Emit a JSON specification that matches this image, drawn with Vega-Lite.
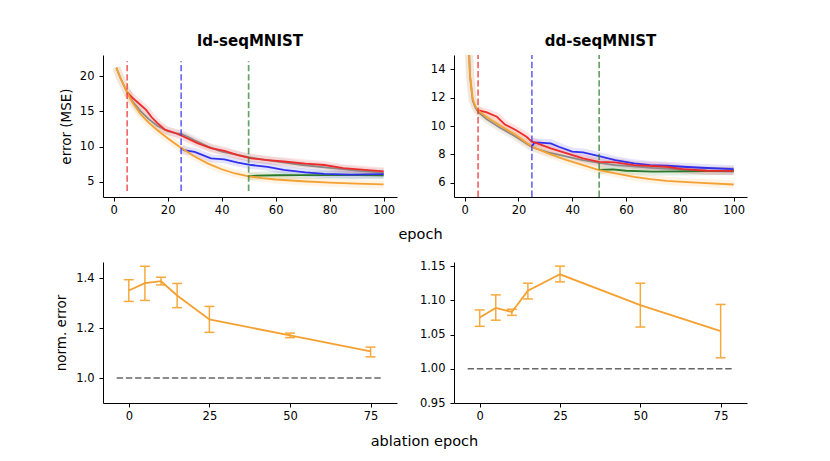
{
  "$schema": "https://vega.github.io/schema/vega-lite/v6.json",
  "autosize": {"type": "none"},
  "padding": {"left": 103, "top": 55, "right": 727, "bottom": 406},
  "background": "white",
  "config": {
    "view": {"stroke": null},
    "font": "DejaVu Sans",
    "axis": {"grid": false, "domainColor": "#000", "tickColor": "#000", "labelColor": "#000", "titleColor": "#000", "labelFont": "DejaVu Sans", "labelFontSize": 11.5, "titleFont": "DejaVu Sans", "titleFontWeight": "normal", "titleFontSize": 13.5, "tickSize": 4, "domainWidth": 1, "tickWidth": 1, "labelPadding": 3, "labelOverlap": false, "labelBound": false, "labelFlush": false, "tickCount": 12},
    "axisY": {"labelPadding": 5},
    "title": {"font": "DejaVu Sans", "fontSize": 15, "fontWeight": "bold", "color": "#000", "frame": "group", "anchor": "middle", "offset": 6}
  },
  "datasets": {
    "curves": [
      {"panel": "ld", "run": "gray", "epoch": 1, "err": 21.2}, {"panel": "ld", "run": "gray", "epoch": 2, "err": 20.2}, {"panel": "ld", "run": "gray", "epoch": 3, "err": 19.3}, {"panel": "ld", "run": "gray", "epoch": 4, "err": 18.5}, {"panel": "ld", "run": "gray", "epoch": 5, "err": 17.7}, {"panel": "ld", "run": "gray", "epoch": 7, "err": 16.4}, {"panel": "ld", "run": "gray", "epoch": 10, "err": 15.0}, {"panel": "ld", "run": "gray", "epoch": 13, "err": 13.9}, {"panel": "ld", "run": "gray", "epoch": 16, "err": 13.0}, {"panel": "ld", "run": "gray", "epoch": 20, "err": 12.2}, {"panel": "ld", "run": "gray", "epoch": 23, "err": 11.9}, {"panel": "ld", "run": "gray", "epoch": 25, "err": 11.8}, {"panel": "ld", "run": "gray", "epoch": 28, "err": 11.3}, {"panel": "ld", "run": "gray", "epoch": 30, "err": 10.9}, {"panel": "ld", "run": "gray", "epoch": 35, "err": 10.0}, {"panel": "ld", "run": "gray", "epoch": 40, "err": 9.3}, {"panel": "ld", "run": "gray", "epoch": 45, "err": 8.9}, {"panel": "ld", "run": "gray", "epoch": 50, "err": 8.5}, {"panel": "ld", "run": "gray", "epoch": 55, "err": 8.2}, {"panel": "ld", "run": "gray", "epoch": 60, "err": 7.9}, {"panel": "ld", "run": "gray", "epoch": 70, "err": 7.4}, {"panel": "ld", "run": "gray", "epoch": 80, "err": 7.0}, {"panel": "ld", "run": "gray", "epoch": 90, "err": 6.6}, {"panel": "ld", "run": "gray", "epoch": 100, "err": 6.3},
      {"panel": "ld", "run": "green", "epoch": 50, "err": 5.8}, {"panel": "ld", "run": "green", "epoch": 53, "err": 5.9}, {"panel": "ld", "run": "green", "epoch": 60, "err": 5.95}, {"panel": "ld", "run": "green", "epoch": 70, "err": 5.98}, {"panel": "ld", "run": "green", "epoch": 80, "err": 5.97}, {"panel": "ld", "run": "green", "epoch": 90, "err": 5.96}, {"panel": "ld", "run": "green", "epoch": 100, "err": 5.95},
      {"panel": "ld", "run": "blue", "epoch": 25, "err": 9.8}, {"panel": "ld", "run": "blue", "epoch": 26, "err": 9.5}, {"panel": "ld", "run": "blue", "epoch": 30, "err": 9.25}, {"panel": "ld", "run": "blue", "epoch": 33, "err": 8.8}, {"panel": "ld", "run": "blue", "epoch": 36, "err": 8.35}, {"panel": "ld", "run": "blue", "epoch": 41, "err": 8.2}, {"panel": "ld", "run": "blue", "epoch": 46, "err": 7.75}, {"panel": "ld", "run": "blue", "epoch": 51, "err": 7.4}, {"panel": "ld", "run": "blue", "epoch": 57, "err": 7.15}, {"panel": "ld", "run": "blue", "epoch": 63, "err": 6.7}, {"panel": "ld", "run": "blue", "epoch": 71, "err": 6.35}, {"panel": "ld", "run": "blue", "epoch": 78, "err": 6.15}, {"panel": "ld", "run": "blue", "epoch": 88, "err": 6.05}, {"panel": "ld", "run": "blue", "epoch": 100, "err": 6.1},
      {"panel": "ld", "run": "red", "epoch": 5, "err": 17.7}, {"panel": "ld", "run": "red", "epoch": 7, "err": 16.9}, {"panel": "ld", "run": "red", "epoch": 10, "err": 15.9}, {"panel": "ld", "run": "red", "epoch": 12, "err": 15.2}, {"panel": "ld", "run": "red", "epoch": 14, "err": 14.2}, {"panel": "ld", "run": "red", "epoch": 16, "err": 13.4}, {"panel": "ld", "run": "red", "epoch": 19, "err": 12.4}, {"panel": "ld", "run": "red", "epoch": 23, "err": 11.9}, {"panel": "ld", "run": "red", "epoch": 26, "err": 11.4}, {"panel": "ld", "run": "red", "epoch": 31, "err": 10.5}, {"panel": "ld", "run": "red", "epoch": 36, "err": 9.8}, {"panel": "ld", "run": "red", "epoch": 41, "err": 9.4}, {"panel": "ld", "run": "red", "epoch": 46, "err": 8.8}, {"panel": "ld", "run": "red", "epoch": 51, "err": 8.35}, {"panel": "ld", "run": "red", "epoch": 57, "err": 8.1}, {"panel": "ld", "run": "red", "epoch": 63, "err": 7.9}, {"panel": "ld", "run": "red", "epoch": 71, "err": 7.6}, {"panel": "ld", "run": "red", "epoch": 78, "err": 7.4}, {"panel": "ld", "run": "red", "epoch": 85, "err": 6.95}, {"panel": "ld", "run": "red", "epoch": 93, "err": 6.7}, {"panel": "ld", "run": "red", "epoch": 100, "err": 6.5},
      {"panel": "ld", "run": "orange", "epoch": 1, "err": 21.2}, {"panel": "ld", "run": "orange", "epoch": 2, "err": 20.2}, {"panel": "ld", "run": "orange", "epoch": 3, "err": 19.3}, {"panel": "ld", "run": "orange", "epoch": 4, "err": 18.5}, {"panel": "ld", "run": "orange", "epoch": 5, "err": 17.7}, {"panel": "ld", "run": "orange", "epoch": 7, "err": 16.2}, {"panel": "ld", "run": "orange", "epoch": 10, "err": 14.6}, {"panel": "ld", "run": "orange", "epoch": 13, "err": 13.4}, {"panel": "ld", "run": "orange", "epoch": 16, "err": 12.4}, {"panel": "ld", "run": "orange", "epoch": 20, "err": 11.2}, {"panel": "ld", "run": "orange", "epoch": 25, "err": 9.8}, {"panel": "ld", "run": "orange", "epoch": 30, "err": 8.6}, {"panel": "ld", "run": "orange", "epoch": 35, "err": 7.6}, {"panel": "ld", "run": "orange", "epoch": 40, "err": 6.8}, {"panel": "ld", "run": "orange", "epoch": 45, "err": 6.2}, {"panel": "ld", "run": "orange", "epoch": 50, "err": 5.8}, {"panel": "ld", "run": "orange", "epoch": 55, "err": 5.55}, {"panel": "ld", "run": "orange", "epoch": 60, "err": 5.35}, {"panel": "ld", "run": "orange", "epoch": 70, "err": 5.1}, {"panel": "ld", "run": "orange", "epoch": 80, "err": 4.9}, {"panel": "ld", "run": "orange", "epoch": 90, "err": 4.75}, {"panel": "ld", "run": "orange", "epoch": 100, "err": 4.65},
      {"panel": "dd", "run": "gray", "epoch": 1, "err": 18.2}, {"panel": "dd", "run": "gray", "epoch": 2, "err": 13.5}, {"panel": "dd", "run": "gray", "epoch": 3, "err": 11.8}, {"panel": "dd", "run": "gray", "epoch": 4, "err": 11.3}, {"panel": "dd", "run": "gray", "epoch": 5, "err": 11.0}, {"panel": "dd", "run": "gray", "epoch": 8, "err": 10.5}, {"panel": "dd", "run": "gray", "epoch": 13, "err": 9.9}, {"panel": "dd", "run": "gray", "epoch": 19, "err": 9.25}, {"panel": "dd", "run": "gray", "epoch": 25, "err": 8.5}, {"panel": "dd", "run": "gray", "epoch": 31, "err": 8.15}, {"panel": "dd", "run": "gray", "epoch": 38, "err": 7.85}, {"panel": "dd", "run": "gray", "epoch": 44, "err": 7.6}, {"panel": "dd", "run": "gray", "epoch": 50, "err": 7.4}, {"panel": "dd", "run": "gray", "epoch": 56, "err": 7.25}, {"panel": "dd", "run": "gray", "epoch": 63, "err": 7.15}, {"panel": "dd", "run": "gray", "epoch": 70, "err": 7.05}, {"panel": "dd", "run": "gray", "epoch": 80, "err": 6.95}, {"panel": "dd", "run": "gray", "epoch": 90, "err": 6.85}, {"panel": "dd", "run": "gray", "epoch": 100, "err": 6.8},
      {"panel": "dd", "run": "green", "epoch": 50, "err": 6.9}, {"panel": "dd", "run": "green", "epoch": 55, "err": 6.95}, {"panel": "dd", "run": "green", "epoch": 60, "err": 6.85}, {"panel": "dd", "run": "green", "epoch": 70, "err": 6.78}, {"panel": "dd", "run": "green", "epoch": 80, "err": 6.8}, {"panel": "dd", "run": "green", "epoch": 90, "err": 6.82}, {"panel": "dd", "run": "green", "epoch": 100, "err": 6.85},
      {"panel": "dd", "run": "blue", "epoch": 25, "err": 8.55}, {"panel": "dd", "run": "blue", "epoch": 26, "err": 8.85}, {"panel": "dd", "run": "blue", "epoch": 32, "err": 8.78}, {"panel": "dd", "run": "blue", "epoch": 35, "err": 8.54}, {"panel": "dd", "run": "blue", "epoch": 40, "err": 8.19}, {"panel": "dd", "run": "blue", "epoch": 44, "err": 8.14}, {"panel": "dd", "run": "blue", "epoch": 50, "err": 7.88}, {"panel": "dd", "run": "blue", "epoch": 56, "err": 7.6}, {"panel": "dd", "run": "blue", "epoch": 63, "err": 7.37}, {"panel": "dd", "run": "blue", "epoch": 69, "err": 7.25}, {"panel": "dd", "run": "blue", "epoch": 75, "err": 7.2}, {"panel": "dd", "run": "blue", "epoch": 81, "err": 7.13}, {"panel": "dd", "run": "blue", "epoch": 88, "err": 7.06}, {"panel": "dd", "run": "blue", "epoch": 100, "err": 6.96},
      {"panel": "dd", "run": "red", "epoch": 5, "err": 11.1}, {"panel": "dd", "run": "red", "epoch": 8, "err": 10.97}, {"panel": "dd", "run": "red", "epoch": 12, "err": 10.65}, {"panel": "dd", "run": "red", "epoch": 15, "err": 10.1}, {"panel": "dd", "run": "red", "epoch": 19, "err": 9.72}, {"panel": "dd", "run": "red", "epoch": 23, "err": 9.24}, {"panel": "dd", "run": "red", "epoch": 25, "err": 8.9}, {"panel": "dd", "run": "red", "epoch": 27, "err": 8.78}, {"panel": "dd", "run": "red", "epoch": 32, "err": 8.42}, {"panel": "dd", "run": "red", "epoch": 38, "err": 8.07}, {"panel": "dd", "run": "red", "epoch": 44, "err": 7.72}, {"panel": "dd", "run": "red", "epoch": 50, "err": 7.48}, {"panel": "dd", "run": "red", "epoch": 56, "err": 7.44}, {"panel": "dd", "run": "red", "epoch": 63, "err": 7.25}, {"panel": "dd", "run": "red", "epoch": 75, "err": 7.13}, {"panel": "dd", "run": "red", "epoch": 81, "err": 6.96}, {"panel": "dd", "run": "red", "epoch": 90, "err": 6.85}, {"panel": "dd", "run": "red", "epoch": 100, "err": 6.84},
      {"panel": "dd", "run": "orange", "epoch": 1, "err": 18.2}, {"panel": "dd", "run": "orange", "epoch": 2, "err": 13.6}, {"panel": "dd", "run": "orange", "epoch": 3, "err": 11.9}, {"panel": "dd", "run": "orange", "epoch": 4, "err": 11.4}, {"panel": "dd", "run": "orange", "epoch": 5, "err": 11.1}, {"panel": "dd", "run": "orange", "epoch": 8, "err": 10.65}, {"panel": "dd", "run": "orange", "epoch": 13, "err": 10.05}, {"panel": "dd", "run": "orange", "epoch": 19, "err": 9.36}, {"panel": "dd", "run": "orange", "epoch": 25, "err": 8.55}, {"panel": "dd", "run": "orange", "epoch": 31, "err": 8.07}, {"panel": "dd", "run": "orange", "epoch": 38, "err": 7.6}, {"panel": "dd", "run": "orange", "epoch": 44, "err": 7.25}, {"panel": "dd", "run": "orange", "epoch": 50, "err": 6.9}, {"panel": "dd", "run": "orange", "epoch": 56, "err": 6.66}, {"panel": "dd", "run": "orange", "epoch": 63, "err": 6.42}, {"panel": "dd", "run": "orange", "epoch": 69, "err": 6.26}, {"panel": "dd", "run": "orange", "epoch": 75, "err": 6.14}, {"panel": "dd", "run": "orange", "epoch": 81, "err": 6.07}, {"panel": "dd", "run": "orange", "epoch": 88, "err": 6.0}, {"panel": "dd", "run": "orange", "epoch": 100, "err": 5.88}
    ],
    "vlines": [
      {"panel": "ld", "run": "red", "epoch": 5, "lo": 3.73, "hi": 22.1},
      {"panel": "ld", "run": "blue", "epoch": 25, "lo": 3.73, "hi": 22.1},
      {"panel": "ld", "run": "green", "epoch": 50, "lo": 3.73, "hi": 22.1},
      {"panel": "dd", "run": "red", "epoch": 5, "lo": 5, "hi": 15},
      {"panel": "dd", "run": "blue", "epoch": 25, "lo": 5, "hi": 15},
      {"panel": "dd", "run": "green", "epoch": 50, "lo": 5, "hi": 15}
    ],
    "abl": [
      {"panel": "ld", "epoch": 0, "mean": 1.351, "lo": 1.307, "hi": 1.394},
      {"panel": "ld", "epoch": 5, "mean": 1.38, "lo": 1.311, "hi": 1.448},
      {"panel": "ld", "epoch": 10, "mean": 1.388, "lo": 1.373, "hi": 1.404},
      {"panel": "ld", "epoch": 15, "mean": 1.331, "lo": 1.282, "hi": 1.379},
      {"panel": "ld", "epoch": 25, "mean": 1.235, "lo": 1.183, "hi": 1.287},
      {"panel": "ld", "epoch": 50, "mean": 1.171, "lo": 1.162, "hi": 1.18},
      {"panel": "ld", "epoch": 75, "mean": 1.107, "lo": 1.085, "hi": 1.124},
      {"panel": "dd", "epoch": 0, "mean": 1.075, "lo": 1.062, "hi": 1.086},
      {"panel": "dd", "epoch": 5, "mean": 1.089, "lo": 1.071, "hi": 1.108},
      {"panel": "dd", "epoch": 10, "mean": 1.083, "lo": 1.078, "hi": 1.087},
      {"panel": "dd", "epoch": 15, "mean": 1.114, "lo": 1.102, "hi": 1.125},
      {"panel": "dd", "epoch": 25, "mean": 1.138, "lo": 1.127, "hi": 1.15},
      {"panel": "dd", "epoch": 50, "mean": 1.093, "lo": 1.061, "hi": 1.125},
      {"panel": "dd", "epoch": 75, "mean": 1.055, "lo": 1.016, "hi": 1.094}
    ],
    "ref": [
      {"panel": "ld", "start": -3.75, "end": 78.75, "level": 1.0},
      {"panel": "dd", "start": -3.75, "end": 78.75, "level": 1.0}
    ]
  },
  "columns": 2,
  "bounds": "flush",
  "spacing": {"row": 65, "column": 57},
  "concat": [
    {
      "width": 294, "height": 142,
      "title": {"text": "ld-seqMNIST"},
      "layer": [
        {"data": {"name": "curves"}, "transform": [{"filter": "datum.panel === 'ld'"}],
         "mark": {"type": "line", "strokeWidth": 8, "opacity": 0.13, "clip": true},
         "encoding": {
           "x": {"field": "epoch", "type": "quantitative", "scale": {"domain": [-3.95, 104.95], "nice": false, "zero": false}, "axis": {"values": [0, 20, 40, 60, 80, 100], "tickCount": 12, "title": "epoch", "titleX": 317, "titleAlign": "center", "titleFontSize": 14.5, "titlePadding": 12}},
           "y": {"field": "err", "type": "quantitative", "scale": {"domain": [2.87, 22.98], "nice": false, "zero": false}, "axis": {"values": [5, 10, 15, 20], "tickCount": 12, "title": "error (MSE)", "titlePadding": 6}},
           "color": {"field": "run", "type": "nominal", "scale": {"domain": ["gray", "green", "blue", "red", "orange"], "range": ["#8a8a8a", "#2a7a2a", "#3030ee", "#ee2a2a", "#f5a030"]}, "legend": null}
         }},
        {"data": {"name": "curves"}, "transform": [{"filter": "datum.panel === 'ld'"}],
         "mark": {"type": "line", "strokeWidth": 1.8, "clip": true},
         "encoding": {
           "x": {"field": "epoch", "type": "quantitative", "scale": {"domain": [-3.95, 104.95], "nice": false, "zero": false}},
           "y": {"field": "err", "type": "quantitative", "scale": {"domain": [2.87, 22.98], "nice": false, "zero": false}},
           "color": {"field": "run", "type": "nominal", "legend": null}
         }},
        {"data": {"name": "vlines"}, "transform": [{"filter": "datum.panel === 'ld'"}],
         "mark": {"type": "rule", "strokeWidth": 1.7, "strokeDash": [6.4, 2.8], "opacity": 0.7, "clip": true},
         "encoding": {
           "x": {"field": "epoch", "type": "quantitative", "scale": {"domain": [-3.95, 104.95], "nice": false, "zero": false}},
           "y": {"field": "lo", "type": "quantitative", "scale": {"domain": [2.87, 22.98], "nice": false, "zero": false}},
           "y2": {"field": "hi"},
           "color": {"field": "run", "type": "nominal", "legend": null}
         }}
      ]
    },
    {
      "width": 293, "height": 142,
      "title": {"text": "dd-seqMNIST"},
      "layer": [
        {"data": {"name": "curves"}, "transform": [{"filter": "datum.panel === 'dd'"}],
         "mark": {"type": "line", "strokeWidth": 8, "opacity": 0.13, "clip": true},
         "encoding": {
           "x": {"field": "epoch", "type": "quantitative", "scale": {"domain": [-3.95, 104.95], "nice": false, "zero": false}, "axis": {"values": [0, 20, 40, 60, 80, 100], "tickCount": 12, "title": null}},
           "y": {"field": "err", "type": "quantitative", "scale": {"domain": [5, 15], "nice": false, "zero": false}, "axis": {"values": [6, 8, 10, 12, 14], "tickCount": 12, "title": null}},
           "color": {"field": "run", "type": "nominal", "scale": {"domain": ["gray", "green", "blue", "red", "orange"], "range": ["#8a8a8a", "#2a7a2a", "#3030ee", "#ee2a2a", "#f5a030"]}, "legend": null}
         }},
        {"data": {"name": "curves"}, "transform": [{"filter": "datum.panel === 'dd'"}],
         "mark": {"type": "line", "strokeWidth": 1.8, "clip": true},
         "encoding": {
           "x": {"field": "epoch", "type": "quantitative", "scale": {"domain": [-3.95, 104.95], "nice": false, "zero": false}},
           "y": {"field": "err", "type": "quantitative", "scale": {"domain": [5, 15], "nice": false, "zero": false}},
           "color": {"field": "run", "type": "nominal", "legend": null}
         }},
        {"data": {"name": "vlines"}, "transform": [{"filter": "datum.panel === 'dd'"}],
         "mark": {"type": "rule", "strokeWidth": 1.7, "strokeDash": [6.4, 2.8], "opacity": 0.7, "clip": true},
         "encoding": {
           "x": {"field": "epoch", "type": "quantitative", "scale": {"domain": [-3.95, 104.95], "nice": false, "zero": false}},
           "y": {"field": "lo", "type": "quantitative", "scale": {"domain": [5, 15], "nice": false, "zero": false}},
           "y2": {"field": "hi"},
           "color": {"field": "run", "type": "nominal", "legend": null}
         }}
      ]
    },
    {
      "width": 294, "height": 141,
      "layer": [
        {"data": {"name": "ref"}, "transform": [{"filter": "datum.panel === 'ld'"}],
         "mark": {"type": "rule", "color": "#555555", "strokeWidth": 1.6, "strokeDash": [6.4, 2.8], "opacity": 0.9},
         "encoding": {
           "x": {"field": "start", "type": "quantitative", "scale": {"domain": [-8, 83.2], "nice": false, "zero": false}, "axis": {"values": [0, 25, 50, 75], "tickCount": 12, "title": "ablation epoch", "titleX": 321, "titleAlign": "center", "titleFontSize": 14.5, "titlePadding": 13}},
           "x2": {"field": "end"},
           "y": {"field": "level", "type": "quantitative", "scale": {"domain": [0.9, 1.465], "nice": false, "zero": false}, "axis": {"values": [1.0, 1.2, 1.4], "tickCount": 12, "format": ".1f", "title": "norm. error", "titlePadding": 7}}
         }},
        {"data": {"name": "abl"}, "transform": [{"filter": "datum.panel === 'ld'"}],
         "mark": {"type": "rule", "color": "#f6aa3c", "strokeWidth": 1.5},
         "encoding": {
           "x": {"field": "epoch", "type": "quantitative", "scale": {"domain": [-8, 83.2], "nice": false, "zero": false}},
           "y": {"field": "lo", "type": "quantitative", "scale": {"domain": [0.9, 1.465], "nice": false, "zero": false}},
           "y2": {"field": "hi"}
         }},
        {"data": {"name": "abl"}, "transform": [{"filter": "datum.panel === 'ld'"}, {"fold": ["lo", "hi"], "as": ["bound", "value"]}],
         "mark": {"type": "tick", "orient": "horizontal", "color": "#f6aa3c", "size": 10, "thickness": 1.5, "opacity": 1},
         "encoding": {
           "x": {"field": "epoch", "type": "quantitative", "scale": {"domain": [-8, 83.2], "nice": false, "zero": false}},
           "y": {"field": "value", "type": "quantitative", "scale": {"domain": [0.9, 1.465], "nice": false, "zero": false}}
         }},
        {"data": {"name": "abl"}, "transform": [{"filter": "datum.panel === 'ld'"}],
         "mark": {"type": "line", "color": "#f5a030", "strokeWidth": 1.8},
         "encoding": {
           "x": {"field": "epoch", "type": "quantitative", "scale": {"domain": [-8, 83.2], "nice": false, "zero": false}},
           "y": {"field": "mean", "type": "quantitative", "scale": {"domain": [0.9, 1.465], "nice": false, "zero": false}}
         }}
      ]
    },
    {
      "width": 293, "height": 141,
      "layer": [
        {"data": {"name": "ref"}, "transform": [{"filter": "datum.panel === 'dd'"}],
         "mark": {"type": "rule", "color": "#555555", "strokeWidth": 1.6, "strokeDash": [6.4, 2.8], "opacity": 0.9},
         "encoding": {
           "x": {"field": "start", "type": "quantitative", "scale": {"domain": [-8, 83.2], "nice": false, "zero": false}, "axis": {"values": [0, 25, 50, 75], "tickCount": 12, "title": null}},
           "x2": {"field": "end"},
           "y": {"field": "level", "type": "quantitative", "scale": {"domain": [0.95, 1.156], "nice": false, "zero": false}, "axis": {"values": [0.95, 1.0, 1.05, 1.1, 1.15], "tickCount": 12, "format": ".2f", "title": null}}
         }},
        {"data": {"name": "abl"}, "transform": [{"filter": "datum.panel === 'dd'"}],
         "mark": {"type": "rule", "color": "#f6aa3c", "strokeWidth": 1.5},
         "encoding": {
           "x": {"field": "epoch", "type": "quantitative", "scale": {"domain": [-8, 83.2], "nice": false, "zero": false}},
           "y": {"field": "lo", "type": "quantitative", "scale": {"domain": [0.95, 1.156], "nice": false, "zero": false}},
           "y2": {"field": "hi"}
         }},
        {"data": {"name": "abl"}, "transform": [{"filter": "datum.panel === 'dd'"}, {"fold": ["lo", "hi"], "as": ["bound", "value"]}],
         "mark": {"type": "tick", "orient": "horizontal", "color": "#f6aa3c", "size": 10, "thickness": 1.5, "opacity": 1},
         "encoding": {
           "x": {"field": "epoch", "type": "quantitative", "scale": {"domain": [-8, 83.2], "nice": false, "zero": false}},
           "y": {"field": "value", "type": "quantitative", "scale": {"domain": [0.95, 1.156], "nice": false, "zero": false}}
         }},
        {"data": {"name": "abl"}, "transform": [{"filter": "datum.panel === 'dd'"}],
         "mark": {"type": "line", "color": "#f5a030", "strokeWidth": 1.8},
         "encoding": {
           "x": {"field": "epoch", "type": "quantitative", "scale": {"domain": [-8, 83.2], "nice": false, "zero": false}},
           "y": {"field": "mean", "type": "quantitative", "scale": {"domain": [0.95, 1.156], "nice": false, "zero": false}}
         }}
      ]
    }
  ]
}
